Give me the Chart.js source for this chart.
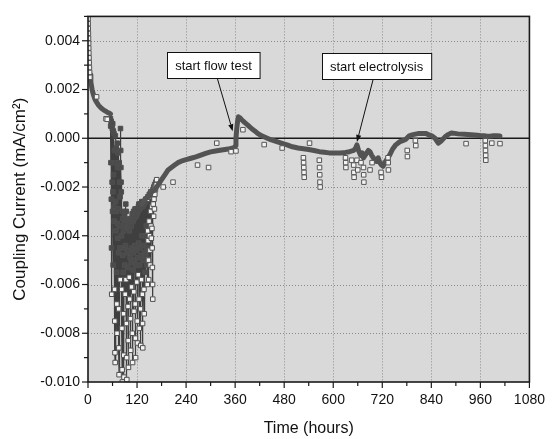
<!DOCTYPE html>
<html><head><meta charset="utf-8">
<script src="https://cdn.jsdelivr.net/npm/chart.js@4.4.1/dist/chart.umd.min.js"></script>
<style>html,body{margin:0;padding:0;background:#fff;}#wrap{width:555px;height:439px;}</style>
</head><body><div id="wrap"><canvas id="c" width="555" height="439"></canvas></div>
<script>
const FONT = "'Liberation Sans', Arial, Helvetica, sans-serif";

// ---- axis ticks ----
const xTickValues = [0,60,120,180,240,300,360,420,480,540,600,660,720,780,840,900,960,1020,1080];
const xTickLabels = ['0','','120','','240','','360','','480','','600','','720','','840','','960','','1080'];
const yTickValues = [-0.010,-0.009,-0.008,-0.007,-0.006,-0.005,-0.004,-0.003,-0.002,-0.001,0,0.001,0.002,0.003,0.004,0.005];
const yTickLabels = ['-0.010','','-0.008','','-0.006','','-0.004','','-0.002','','0.000','','0.002','','0.004',''];

// ---- main dense trace (overlapping markers form a dark band) ----
const bandHours = [5,7,10,13,17,21,26,31,36,41,46,51,55,90,
  132,140,148,156,164,172,180,188,196,204,
  212,220,228,240,252,264,276,288,300,312,
  323,335,347,355,359,361,362,364,366,368,
  371,376,383,391,400,408,415,425,436,447,
  460,473,487,500,514,527,540,553,566,578,
  590,604,618,630,640,650,655,658,662,667,
  671,674,678,682,686,690,694,698,702,706,
  710,714,718,722,726,730,734,738,745,753,
  762,770,777,786,793,801,810,817,826,833,
  841,849,857,865,873,881,889,897,905,913,
  921,929,937,945,953,961,969,976,984,992,
  1000,1008];
const bandValues = [0.0026,0.0023,0.0020,0.0018,0.0016,0.00148,0.00135,0.00126,0.00119,0.00113,0.00108,0.00104,0.0010,null,
  -0.0027,-0.0025,-0.0024,-0.0022,-0.0021,-0.0019,-0.0017,-0.0015,-0.0013,-0.0012,
  -0.0011,-0.0010,-0.00094,-0.00088,-0.00082,-0.00076,-0.00069,-0.00062,-0.00056,-0.00052,
  -0.00049,-0.00046,-0.00043,-0.0004,-0.00037,-0.0003,0.0000,0.0004,0.0007,0.00088,
  0.00085,0.00076,0.00065,0.00054,0.0004,0.0003,0.0002,0.0001,0.00002,-0.00006,
  -0.00013,-0.0002,-0.00027,-0.00035,-0.0004,-0.00043,-0.00046,-0.0005,-0.00055,-0.00057,
  -0.0006,-0.0006,-0.0006,-0.00058,-0.00055,-0.0005,-0.0004,-0.00027,-0.0005,-0.0007,
  -0.0006,-0.0008,-0.0007,-0.0006,-0.0005,-0.00055,-0.0007,-0.0008,-0.0009,-0.00095,
  -0.0008,-0.0010,-0.0011,-0.00115,-0.0010,-0.0009,-0.0008,-0.00069,-0.00045,-0.00027,
  -0.00015,-0.0001,-0.00005,0.0001,0.00014,0.00017,0.0002,0.0002,0.0002,0.00015,
  0.0001,0.0000,-0.0002,-0.0001,0.00005,0.00015,0.00022,0.0002,0.00018,0.00017,
  0.00016,0.00015,0.00014,0.00013,0.00012,0.0001,0.0001,0.00008,0.00008,0.0001,
  0.0001,0.00009];

// ---- noisy period (open squares joined by thin line) ----
const noisyHours = [
  55,55.5,56,56.5,57,57.5,58,58.5,59,59.5,
  60,60.5,61,61.5,62,62.5,63,63.5,64,64.5,
  65,65.5,66,66.5,67,67.5,68,68.5,69,69.5,
  70,70.5,71,71.5,72,72.5,73,73.5,74,74.5,
  75,75.5,76,76.5,77,77.5,78,78.5,79,79.5,
  80,80.5,81,81.5,82,82.5,83,83.5,84,84.5,
  85,85.5,86,86.5,87,87.5,88,88.5,89,89.5,
  90,90.5,91,91.5,92,92.5,93,93.5,94,94.5,
  95,95.5,96,96.5,97,97.5,98,98.5,99,99.5,
  100,100.5,101,101.5,102,102.5,103,103.5,104,104.5,
  105,105.5,106,106.5,107,107.5,108,108.5,109,109.5,
  110,110.5,111,111.5,112,112.5,113,113.5,114,114.5,
  115,115.5,116,116.5,117,117.5,118,118.5,119,119.5,
  120,120.5,121,121.5,122,122.5,123,123.5,124,124.5,
  125,125.5,126,126.5,127,127.5,128,128.5,129,129.5,
  130,130.5,131,131.5,132,132.5,133,133.5,134,134.5,
  135,135.5,136,136.5,137,137.5,138,138.5,139,139.5,
  140,140.5,141,141.5,142,142.5,143,143.5,144,144.5,
  145,145.5,146,146.5,147,147.5,148,148.5,149,149.5,
  150,150.5,151,151.5,152,152.5,153,153.5,154,154.5,
  155,155.5,156,156.5,157,157.5,158,158.5,159,159.5,
  160,160.5,161,161.5,162,162.5,163,163.5,164,164.5,
  165,166,167,168];
const noisyValues = [
  0.0008,0.0005,-0.0010,0.0007,-0.0025,-0.0045,-0.0064,0.0006,-0.0018,0.0004,
  -0.0030,0.0006,-0.0022,-0.0052,0.0003,-0.0015,-0.0028,0.0002,-0.0034,-0.0005,
  -0.0062,-0.0075,-0.0088,-0.0092,0.0001,-0.0026,-0.0010,-0.0038,-0.0004,-0.0030,
  -0.0055,-0.0068,-0.0080,-0.0002,-0.0035,-0.0012,-0.0041,-0.0006,-0.0029,-0.0047,
  -0.0070,-0.0086,-0.0097,-0.0010,-0.0036,-0.0018,-0.0045,-0.0024,-0.0058,0.0004,
  -0.0005,-0.0012,-0.0018,-0.0022,-0.0040,-0.0062,-0.0078,-0.0095,-0.0100,-0.0030,
  -0.0048,-0.0033,-0.0055,-0.0038,-0.0072,-0.0089,-0.0098,-0.0035,-0.0045,-0.0031,
  -0.0052,-0.0036,-0.0064,-0.0033,-0.0044,-0.0027,-0.0058,-0.0030,-0.0076,-0.0090,
  -0.0099,-0.0034,-0.0047,-0.0035,-0.0053,-0.0037,-0.0069,-0.0083,-0.0094,-0.0036,
  -0.0046,-0.0034,-0.0057,-0.0038,-0.0066,-0.0035,-0.0049,-0.0033,-0.0074,-0.0087,
  -0.0034,-0.0051,-0.0036,-0.0061,-0.0033,-0.0045,-0.0031,-0.0080,-0.0092,-0.0032,
  -0.0054,-0.0034,-0.0047,-0.0030,-0.0063,-0.0071,-0.0033,-0.0050,-0.0031,-0.0044,
  -0.0029,-0.0068,-0.0082,-0.0090,-0.0030,-0.0052,-0.0032,-0.0046,-0.0029,-0.0059,
  -0.0031,-0.0075,-0.0084,-0.0029,-0.0049,-0.0030,-0.0056,-0.0028,-0.0043,-0.0027,
  -0.0066,-0.0078,-0.0028,-0.0052,-0.0029,-0.0045,-0.0027,-0.0070,-0.0085,-0.0027,
  -0.0048,-0.0028,-0.0058,-0.0026,-0.0040,-0.0027,-0.0064,-0.0076,-0.0086,-0.0028,
  -0.0050,-0.0027,-0.0044,-0.0026,-0.0062,-0.0072,-0.0027,-0.0047,-0.0026,-0.0055,
  -0.0026,-0.0040,-0.0025,-0.0048,-0.0026,-0.0036,-0.0025,-0.0045,-0.0025,-0.0052,
  -0.0060,-0.0025,-0.0038,-0.0024,-0.0042,-0.0024,-0.0050,-0.0058,-0.0024,-0.0034,
  -0.0023,-0.0040,-0.0023,-0.0046,-0.0052,-0.0023,-0.0030,-0.0022,-0.0036,-0.0022,
  -0.0041,-0.0022,-0.0028,-0.0037,-0.0045,-0.0053,-0.0060,-0.0066,-0.0021,-0.0027,
  -0.0021,-0.0032,-0.0020,-0.0025,-0.0020,-0.0029,-0.0019,-0.0023,-0.0019,-0.0020,
  -0.0021,-0.0018,-0.0019,-0.0017];

// ---- isolated open-square readings ----
const outlierHours = [0.2,0.4,0.6,0.9,1.2,1.5,1.8,2.1,2.5,2.9,3.4,4.0,4.6,
  21,44,47,184,208,268,295,315,350,362,379,431,475,
  527,527.5,528,528.5,529,542,566,566.5,567,567.5,568,
  630,630.5,631,645,650,650.5,651,658,660,668,674,674.5,675,690,695,
  717,718,734,734.5,735,781,781.5,801,802,925,972,972.3,972.6,973,973.3,988,1008];
const outlierValues = [0.0049,0.0047,0.0045,0.0043,0.0041,0.0039,0.0037,0.0035,0.0033,0.0031,0.0029,0.0027,0.0025,
  0.0017,0.0008,0.00078,-0.0020,-0.0018,-0.0011,-0.0012,-0.0002,-0.00055,-0.00052,0.00035,-0.00026,-0.0004,
  -0.0008,-0.0010,-0.0012,-0.0014,-0.0016,-0.0002,-0.0009,-0.0012,-0.0015,-0.0018,-0.0020,
  -0.0008,-0.0010,-0.0012,-0.0009,-0.0011,-0.0014,-0.0016,-0.0009,-0.0013,-0.0010,-0.0012,-0.0015,-0.0018,-0.0013,-0.0010,
  -0.0014,-0.0016,-0.0008,-0.0010,-0.0013,-0.0005,-0.00075,-0.0001,-0.0003,-0.00022,-0.0001,-0.0003,-0.0005,-0.0007,-0.0009,-0.0002,-0.00022];

// ---- annotations (data coordinates) ----
const annotationTexts = ['start flow test', 'start electrolysis'];
const annotationBoxAt = [[307, 0.0030], [706, 0.00296]];
const annotationArrowTo = [[354, 0.00029], [658, -0.00015]];

function pts(hs, vs) { return hs.map((h, i) => ({x: h, y: vs[i]})); }
function labelFor(values, labels, v) {
  const i = values.findIndex(t => Math.abs(t - v) < 1e-7);
  return i >= 0 ? labels[i] : '';
}

const furniture = {
  id: 'furniture',
  beforeDatasetsDraw(chart) {
    const {ctx, chartArea: a, scales: {x, y}} = chart;
    ctx.save();
    ctx.fillStyle = '#d9d9d9';
    ctx.fillRect(a.left, a.top, a.right - a.left, a.bottom - a.top);
    ctx.strokeStyle = '#8a8a8a';
    ctx.lineWidth = 1;
    ctx.setLineDash([1, 2]);
    x.ticks.forEach(t => {
      if (labelFor(xTickValues, xTickLabels, t.value) && t.value > x.min && t.value < x.max) {
        const px = Math.round(x.getPixelForValue(t.value)) + 0.5;
        ctx.beginPath(); ctx.moveTo(px, a.top); ctx.lineTo(px, a.bottom); ctx.stroke();
      }
    });
    y.ticks.forEach(t => {
      if (labelFor(yTickValues, yTickLabels, t.value) && t.value > y.min && t.value < y.max && Math.abs(t.value) > 1e-9) {
        const py = Math.round(y.getPixelForValue(t.value)) + 0.5;
        ctx.beginPath(); ctx.moveTo(a.left, py); ctx.lineTo(a.right, py); ctx.stroke();
      }
    });
    ctx.setLineDash([]);
    ctx.strokeStyle = '#1a1a1a';
    ctx.lineWidth = 1.3;
    const zy = y.getPixelForValue(0);
    ctx.beginPath(); ctx.moveTo(a.left, zy); ctx.lineTo(a.right, zy); ctx.stroke();
    ctx.restore();
  },
  afterDatasetsDraw(chart) {
    const {ctx, chartArea: a, scales: {x, y}} = chart;
    ctx.save();
    ctx.strokeStyle = '#1a1a1a';
    ctx.lineWidth = 1.6;
    ctx.strokeRect(a.left, a.top, a.right - a.left, a.bottom - a.top);
    ctx.lineWidth = 1.2;
    x.ticks.forEach(t => {
      const major = labelFor(xTickValues, xTickLabels, t.value) !== '';
      const px = x.getPixelForValue(t.value);
      ctx.beginPath(); ctx.moveTo(px, a.bottom); ctx.lineTo(px, a.bottom + (major ? 6 : 4)); ctx.stroke();
    });
    y.ticks.forEach(t => {
      const major = labelFor(yTickValues, yTickLabels, t.value) !== '';
      const py = y.getPixelForValue(t.value);
      ctx.beginPath(); ctx.moveTo(a.left, py); ctx.lineTo(a.left - (major ? 6 : 4), py); ctx.stroke();
    });
    ctx.font = '13px ' + FONT;
    ctx.textAlign = 'center';
    ctx.textBaseline = 'middle';
    annotationTexts.forEach((txt, i) => {
      const cx = x.getPixelForValue(annotationBoxAt[i][0]);
      const cy = y.getPixelForValue(annotationBoxAt[i][1]);
      const tx = x.getPixelForValue(annotationArrowTo[i][0]);
      const ty = y.getPixelForValue(annotationArrowTo[i][1]);
      const w = ctx.measureText(txt).width + 16;
      const h = 26;
      const bx = Math.round(cx - w / 2) + 0.5, by = Math.round(cy - h / 2) + 0.5;
      ctx.fillStyle = '#ffffff';
      ctx.fillRect(bx, by, w, h);
      ctx.strokeStyle = '#111';
      ctx.lineWidth = 1;
      ctx.strokeRect(bx, by, w, h);
      ctx.fillStyle = '#111';
      ctx.fillText(txt, cx, cy + 1);
      const bottom = by + h;
      const t0 = (bottom - cy) / (ty - cy);
      const sx = cx + (tx - cx) * t0, sy = bottom;
      const ang = Math.atan2(ty - sy, tx - sx);
      const hl = 7, hw = 2.6;
      const ex = tx - Math.cos(ang) * hl, ey = ty - Math.sin(ang) * hl;
      ctx.beginPath(); ctx.moveTo(sx, sy); ctx.lineTo(ex, ey); ctx.stroke();
      ctx.beginPath();
      ctx.moveTo(tx, ty);
      ctx.lineTo(ex + Math.sin(ang) * hw, ey - Math.cos(ang) * hw);
      ctx.lineTo(ex - Math.sin(ang) * hw, ey + Math.cos(ang) * hw);
      ctx.closePath(); ctx.fill();
    });
    ctx.restore();
  }
};

const squareStyle = {pointStyle: 'rect', pointRadius: 3.2, pointBackgroundColor: '#f4f4f4', pointBorderColor: '#565656', pointBorderWidth: 1};
// where markers pile up densely (the core of the noisy period) they read as a dark mass
const denseFill = c => (c.raw && c.raw.x > 54 && c.raw.x < 145 && c.raw.y > -0.0056) ? '#4b4b4b' : '#f4f4f4';

new Chart(document.getElementById('c'), {
  type: 'scatter',
  data: {
    datasets: [
      Object.assign({label: 'isolated', data: pts(outlierHours, outlierValues), showLine: false, order: 0}, squareStyle),
      {label: 'dense', data: pts(bandHours, bandValues), showLine: true, spanGaps: false, borderColor: '#535353', borderWidth: 5,
       borderJoinStyle: 'round', borderCapStyle: 'round', pointRadius: 0, order: 1},
      Object.assign({}, squareStyle, {label: 'noisy', data: pts(noisyHours, noisyValues), showLine: true, borderColor: '#3f3f3f', borderWidth: 1.2, order: 2,
       pointBackgroundColor: denseFill, pointBorderColor: '#4f4f4f'})
    ]
  },
  options: {
    responsive: false,
    animation: false,
    events: [],
    layout: {padding: {top: 14, right: 15, bottom: 0, left: 0}},
    plugins: {legend: {display: false}, tooltip: {enabled: false}},
    scales: {
      x: {
        type: 'linear', min: 0, max: 1080,
        afterBuildTicks: s => { s.ticks = xTickValues.map(v => ({value: v})); },
        afterFit: s => { s.height = 57; },
        grid: {display: false, drawTicks: false},
        border: {display: false},
        ticks: {autoSkip: false, maxRotation: 0, padding: 10, color: '#111', font: {family: FONT, size: 14},
                callback: v => labelFor(xTickValues, xTickLabels, v)},
        title: {display: true, text: 'Time (hours)', color: '#111', font: {family: FONT, size: 16}, padding: {top: 0, bottom: 1}}
      },
      y: {
        type: 'linear', min: -0.010, max: 0.005,
        afterBuildTicks: s => { s.ticks = yTickValues.map(v => ({value: v})); },
        afterFit: s => { s.width = 88; },
        grid: {display: false, drawTicks: false},
        border: {display: false},
        ticks: {autoSkip: false, padding: 8, color: '#111', font: {family: FONT, size: 14},
                callback: v => labelFor(yTickValues, yTickLabels, v)},
        title: {display: true, text: 'Coupling Current (mA/cm²)', color: '#111', font: {family: FONT, size: 17}, padding: {top: 10, bottom: 0}}
      }
    }
  },
  plugins: [furniture]
});
</script>
</body></html>
